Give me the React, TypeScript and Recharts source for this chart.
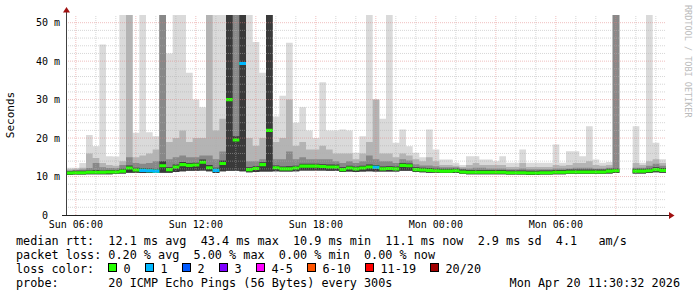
import React from 'react'
import { ComposedChart, Area, XAxis, YAxis, ReferenceLine } from 'recharts'

// 30 hour window, hours counted from Sun 00:00, one sample per 20 minutes
const START = 5.509
const STEP = 1 / 3

// median rtt (ms)
const med = [
  10.9, 11.0, 11.0, 11.1, 11.1, 11.1, 11.2, 11.2, 11.4, 12.2,
  11.7, 11.6, 11.5, 11.4, 12.8, 11.8, 12.5, 13.1, 12.9, 13.0,
  13.7, 12.3, 11.6, 13.4, 30.0, 19.5, 39.4, 11.8, 12.1, 13.1,
  22.0, 12.3, 12.0, 12.0, 12.2, 12.7, 12.7, 12.7, 12.6, 12.5,
  12.5, 11.8, 12.2, 12.0, 12.2, 12.5, 12.4, 12.0, 12.1, 12.0,
  12.9, 12.8, 11.8, 11.7, 11.6, 11.5, 11.4, 11.4, 11.5, 11.2,
  11.1, 11.1, 11.1, 11.1, 11.1, 11.1, 11.0, 11.0, 11.0, 10.9,
  10.9, 11.0, 11.0, 11.1, 11.1, 11.2, 11.2, 11.2, 11.2, 11.2,
  11.2, 11.4, 11.5, 11.4, null, 11.4, 11.4, 11.5, 11.8, 11.6,
  11.6,
]
// smoke: fastest ping
const lo = [
  10.4, 10.5, 10.5, 10.6, 10.6, 10.6, 10.6, 10.7, 10.8, 11.0,
  11.0, 10.9, 10.9, 10.9, 11.0, 11.0, 11.2, 11.4, 11.5, 11.5,
  11.6, 11.4, 10.9, 11.4, 11.5, 11.5, 11.4, 11.1, 11.2, 11.3,
  11.3, 11.4, 11.3, 11.3, 11.4, 11.6, 11.6, 11.6, 11.6, 11.5,
  11.5, 11.2, 11.3, 11.2, 11.3, 11.4, 11.3, 11.3, 11.3, 11.3,
  11.5, 11.5, 11.2, 11.1, 11.0, 11.0, 10.9, 10.9, 10.9, 10.7,
  10.6, 10.6, 10.6, 10.6, 10.6, 10.6, 10.5, 10.5, 10.5, 10.4,
  10.4, 10.5, 10.5, 10.6, 10.6, 10.7, 10.7, 10.7, 10.7, 10.7,
  10.7, 10.8, 10.9, 10.8, null, 10.8, 10.8, 10.9, 11.1, 11.0,
  11.0,
]
// smoke: densest pings around the median
const core = [
  11.4, 11.5, 11.5, 11.6, 11.7, 11.6, 11.7, 11.7, 12.0, 12.9,
  12.3, 12.2, 12.1, 12.0, 14.0, 12.4, 13.1, 13.8, 13.5, 13.6,
  14.4, 13.0, 12.3, 14.2, 52, 20.5, 52, 12.4, 12.7, 13.7,
  52, 12.9, 12.6, 12.7, 12.8, 13.3, 13.3, 13.3, 13.2, 13.1,
  13.1, 12.4, 12.8, 12.6, 12.8, 13.1, 13.0, 12.6, 12.7, 12.6,
  13.5, 13.4, 12.4, 12.3, 12.2, 12.1, 12.0, 12.0, 12.1, 11.8,
  11.7, 11.7, 11.7, 11.7, 11.7, 11.7, 11.6, 11.6, 11.6, 11.5,
  11.5, 11.6, 11.6, 11.7, 11.7, 11.8, 11.8, 11.8, 11.8, 11.8,
  11.8, 12.0, 12.1, 12.0, null, 12.0, 12.0, 12.1, 12.4, 12.2,
  12.2,
]
const dark = [
  11.6, 11.7, 11.8, 12.2, 13.5, 12.4, 12.2, 12.2, 13.0, 15.0,
  13.5, 13.3, 13.5, 14.0, 52, 14.5, 15.0, 15.5, 15.0, 15.0,
  15.5, 15.5, 14.5, 16.5, 52, 52, 52, 14.0, 14.0, 14.5,
  52, 14.5, 14.5, 16.5, 14.5, 15.0, 14.5, 14.5, 14.5, 14.5,
  14.0, 13.5, 14.0, 13.5, 14.0, 15.5, 14.5, 14.0, 14.0, 13.5,
  14.5, 14.2, 13.2, 12.9, 12.9, 12.7, 12.4, 12.4, 12.4, 12.1,
  12.1, 12.3, 12.3, 12.1, 12.1, 12.1, 11.9, 11.9, 12.1, 11.9,
  11.9, 11.9, 11.9, 12.1, 12.1, 12.1, 12.3, 12.3, 12.3, 12.1,
  12.1, 12.3, 52, 12.3, null, 12.3, 12.3, 12.8, 13.3, 12.8,
  12.8,
]
const mid = [
  11.9, 12.0, 12.3, 16.0, 14.8, 13.5, 13.0, 12.8, 14.0, 52,
  15.0, 15.5, 16.0, 17.0, 52, 19.0, 20.0, 22.0, 19.0, 20.0,
  20.0, 52, 22.0, 25.0, 52, 52, 52, 20.0, 18.0, 20.0,
  52, 19.0, 20.0, 30.0, 18.0, 19.0, 17.0, 17.0, 18.0, 17.0,
  16.0, 16.0, 16.0, 14.5, 16.0, 19.0, 30.0, 16.0, 16.0, 15.0,
  16.0, 15.5, 14.5, 14.0, 15.0, 14.0, 13.0, 13.0, 12.8, 12.5,
  13.0, 13.5, 13.0, 13.0, 13.0, 13.0, 12.5, 12.5, 13.5, 12.5,
  12.5, 12.5, 12.5, 13.0, 12.8, 13.0, 13.5, 13.5, 14.0, 13.0,
  12.8, 13.0, 52, 13.0, null, 13.5, 13.0, 14.0, 14.5, 13.5,
  13.5,
]
// smoke: slowest ping
const top = [
  12.3, 12.3, 13.5, 20.8, 17.9, 44.3, 15.3, 15.2, 52, 52,
  21.4, 52, 21.5, 20.5, 52, 42.0, 52, 52, 37.0, 30.0,
  28.0, 52, 52, 52, 52, 52, 52, 52, 45.0, 37.0,
  52, 25.6, 31.0, 44.8, 24.0, 28.0, 22.0, 20.0, 34.5, 22.0,
  22.0, 22.2, 22.0, 16.2, 20.5, 52, 30.0, 25.0, 52, 18.8,
  22.2, 17.9, 16.2, 15.0, 22.2, 17.0, 14.4, 14.4, 13.6, 13.0,
  15.3, 15.3, 14.4, 14.4, 14.0, 15.3, 13.6, 13.6, 17.0, 13.6,
  13.6, 13.6, 13.6, 18.3, 13.6, 16.6, 16.6, 15.3, 23.1, 14.4,
  13.6, 13.8, 52, 13.6, null, 23.1, 13.6, 52, 18.8, 14.5,
  14.5,
]
// samples where one of the 20 pings was lost
const lossAt = [11, 12, 13, 22, 26, 46]

const xTicks = [6, 12, 18, 24, 30]
const xTickLabels = ['Sun 06:00', 'Sun 12:00', 'Sun 18:00', 'Mon 00:00', 'Mon 06:00']
const yTicks = [0, 10, 20, 30, 40, 50]
const yTickLabels = ['0  ', '10 m', '20 m', '30 m', '40 m', '50 m']
const hourGrid = Array.from({ length: 30 }, (_, i) => i + 6)
const msGrid = Array.from({ length: 25 }, (_, i) => (i + 1) * 2)

const lossNames = ['0', '1', '2', '3', '4-5', '6-10', '11-19', '20/20']
const lossColors = ['#26ff00', '#00b8ff', '#0059ff', '#7e00ff', '#ff00ff', '#ff5500', '#ff0000', '#a00000']

const W = 0.4
const band = (a: number | null, b: number | null) => (a == null || b == null ? [null, null] : [a, b])

const rows = med.map((m, i) => {
  const blue = lossAt.includes(i) || lossAt.includes(i - 1)
  return {
    t: START + i * STEP,
    light: band(lo[i], top[i]),
    mid: band(lo[i], mid[i]),
    dark: band(lo[i], dark[i]),
    core: band(lo[i], core[i]),
    green: m == null ? [null, null] : [m - W, m + W],
    blue: m != null && blue ? [m - W, m + W] : [null, null],
  }
})

const MONO = "'DejaVu Sans Mono', monospace"
const pre = (s: string) => s.replace(/ /g, '\u00a0')

const XTick = (p: any) => {
  const label = xTickLabels[xTicks.indexOf(p.payload.value)]
  return (
    <text x={p.x} y={228} textAnchor="middle" fontFamily={MONO} fontSize={10} fill="#000">
      {label}
    </text>
  )
}

const YTick = (p: any) => {
  const label = yTickLabels[yTicks.indexOf(p.payload.value)]
  return (
    <text x={60} y={p.y + 3.5} textAnchor="end" fontFamily={MONO} fontSize={10} fill="#000">
      {pre(label)}
    </text>
  )
}

function Legend() {
  const cw = 7.0
  let x = 108.5
  const items = lossNames.map((name, i) => {
    const sx = x
    x += 15 + name.length * cw + 15
    return (
      <g key={name}>
        <rect x={sx} y={263.5} width={8} height={8} fill={lossColors[i]} stroke="#000" strokeWidth={1} />
        <text x={sx + 15} y={273}>{name}</text>
      </g>
    )
  })
  return (
    <g fontFamily={MONO} fontSize={11.8} fill="#000">
      <text x={16} y={245}>{pre('median rtt:  12.1 ms avg  43.4 ms max  10.9 ms min  11.1 ms now  2.9 ms sd  4.1   am/s')}</text>
      <text x={16} y={259}>{pre('packet loss: 0.20 % avg  5.00 % max  0.00 % min  0.00 % now')}</text>
      <text x={16} y={273}>loss color:</text>
      {items}
      <text x={16} y={287}>{pre('probe:       20 ICMP Echo Pings (56 Bytes) every 300s')}</text>
      <text x={680} y={287} textAnchor="end">{pre('Mon Apr 20 11:30:32 2026')}</text>
    </g>
  )
}

export default function App() {
  return (
    <div style={{ position: 'absolute', left: 0, top: 0, width: 697, height: 297, background: '#fff' }}>
      <ComposedChart width={697} height={297} data={rows} margin={{ top: 15, right: 31, bottom: 52, left: 6 }}>
        <XAxis dataKey="t" type="number" domain={[START, START + 30]} ticks={xTicks} interval={0}
          tick={XTick} axisLine={false} tickLine={false} height={30} allowDataOverflow />
        <YAxis type="number" domain={[0, 52]} ticks={yTicks} interval={0}
          tick={YTick} axisLine={false} tickLine={false} width={60} allowDataOverflow />
        <Area dataKey="light" type="stepAfter" fill="#dadada" fillOpacity={1} stroke="none" isAnimationActive={false} dot={false} activeDot={false} />
        <Area dataKey="mid" type="stepAfter" fill="#b4b4b4" fillOpacity={1} stroke="none" isAnimationActive={false} dot={false} activeDot={false} />
        <Area dataKey="dark" type="stepAfter" fill="#888888" fillOpacity={1} stroke="none" isAnimationActive={false} dot={false} activeDot={false} />
        <Area dataKey="core" type="stepAfter" fill="#3a3a3a" fillOpacity={1} stroke="none" isAnimationActive={false} dot={false} activeDot={false} />
        <Area dataKey="green" type="stepAfter" fill="#26ff00" fillOpacity={1} stroke="none" isAnimationActive={false} dot={false} activeDot={false} />
        <Area dataKey="blue" type="stepAfter" fill="#00b8ff" fillOpacity={1} stroke="none" isAnimationActive={false} dot={false} activeDot={false} />
        {hourGrid.map((h) => (
          <ReferenceLine key={'h' + h} x={h} stroke={h % 3 === 0 ? '#e08080' : '#b0b0b0'} strokeOpacity={0.5} strokeDasharray="1 1" />
        ))}
        {msGrid.map((v) => (
          <ReferenceLine key={'v' + v} y={v} stroke={v % 10 === 0 ? '#e08080' : '#b0b0b0'} strokeOpacity={0.5} strokeDasharray="1 1" />
        ))}
      </ComposedChart>
      <svg width={697} height={297} style={{ position: 'absolute', left: 0, top: 0, pointerEvents: 'none' }}>
        <line x1={66.5} y1={216} x2={66.5} y2={11} stroke="#404040" strokeWidth={1} />
        <line x1={62} y1={215.5} x2={670} y2={215.5} stroke="#202020" strokeWidth={1} />
        <polygon points="63,12.5 70,12.5 66.5,7" fill="#a01010" />
        <polygon points="669,212 669,219 674.5,215.5" fill="#a01010" />
        <text x={0} y={0} transform="translate(14,115) rotate(-90)" textAnchor="middle" fontFamily={MONO} fontSize={11} fill="#000">Seconds</text>
        <text x={0} y={0} transform="translate(685,5) rotate(90)" fontFamily={MONO} fontSize={8.5} fill="#bbbbbb">{pre('RRDTOOL / TOBI OETIKER')}</text>
        <Legend />
      </svg>
    </div>
  )
}
